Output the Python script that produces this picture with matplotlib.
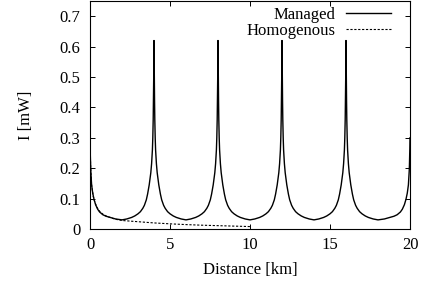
import numpy as np
import matplotlib
matplotlib.use('Agg')
import matplotlib.pyplot as plt

plt.rcParams['font.family'] = ['Liberation Serif', 'DejaVu Serif']
plt.rcParams['font.size'] = 12

# amplifier positions [km]
amp_pos = [0, 4, 8, 12, 16, 20]

# managed: profile around an inner amplifier, distance from amp [km] vs I [mW]
inner_d = [0.0, 0.01, 0.02, 0.035, 0.05, 0.075, 0.1, 0.15, 0.2, 0.3, 0.4, 0.48, 0.6, 0.7, 0.85, 1.0, 1.2, 1.4, 1.7, 2.0]
inner_i = [0.62, 0.55, 0.49, 0.42, 0.36, 0.30, 0.26, 0.215, 0.185, 0.145, 0.115, 0.096, 0.078, 0.068, 0.057, 0.050, 0.043, 0.038, 0.033, 0.030]

# managed: profile at the fibre ends (0 km and 20 km)
edge_d = [0.0, 0.01, 0.02, 0.035, 0.05, 0.075, 0.1, 0.17, 0.25, 0.35, 0.48, 0.6, 0.8, 1.0, 1.2, 1.6, 2.0]
edge_i = [0.30, 0.265, 0.24, 0.21, 0.19, 0.165, 0.145, 0.118, 0.098, 0.080, 0.065, 0.056, 0.047, 0.042, 0.039, 0.033, 0.030]

# homogenous
homo_x = [0.0, 0.02, 0.05, 0.1, 0.2, 0.3, 0.45, 0.6, 0.8, 1.0, 1.3, 1.6, 2.0, 2.5, 3.0, 4.0, 5.0, 6.0, 7.0, 8.0, 9.0, 10.0]
homo_y = [0.30, 0.24, 0.19, 0.145, 0.108, 0.088, 0.070, 0.058, 0.049, 0.043, 0.037, 0.032, 0.028, 0.026, 0.024, 0.020, 0.017, 0.0145, 0.0125, 0.011, 0.0095, 0.008]

# assemble the managed curve span by span from the read profiles
man_x, man_y = [], []
for k in range(len(amp_pos) - 1):
    a, b = amp_pos[k], amp_pos[k + 1]
    ld, li = (edge_d, edge_i) if a == amp_pos[0] else (inner_d, inner_i)
    rd, ri = (edge_d, edge_i) if b == amp_pos[-1] else (inner_d, inner_i)
    man_x += [a + d for d in ld] + [b - d for d in rd[::-1]][1:]
    man_y += list(li) + list(ri[::-1])[1:]

fig = plt.figure(figsize=(4.23, 2.90), dpi=100)
ax = fig.add_axes([90 / 423, 61 / 290, 320 / 423, 228 / 290])

ax.plot(man_x, man_y, color='black', linewidth=1.0, label='Managed')
ax.plot(homo_x, homo_y, color='black', linewidth=0.8, linestyle=(0, (2.0, 1.5)),
        label='Homogenous')

ax.set_xlim(0, 20)
ax.set_ylim(0, 0.75)
ax.set_xticks([0, 5, 10, 15, 20])
ax.set_yticks([0, 0.1, 0.2, 0.3, 0.4, 0.5, 0.6, 0.7])
ax.set_yticklabels(['0', '0.1', '0.2', '0.3', '0.4', '0.5', '0.6', '0.7'])
ax.tick_params(direction='in', length=3.5, width=0.7, top=True, right=True)
ax.tick_params(axis='x', pad=6)
ax.tick_params(axis='y', pad=7)
for s in ax.spines.values():
    s.set_linewidth(0.8)

ax.set_xlabel('Distance [km]')
ax.set_ylabel('I [mW]')
ax.xaxis.set_label_coords(0.5, -0.145)
ax.yaxis.set_label_coords(-0.175, 0.5)

ax.legend(loc='upper right', bbox_to_anchor=(0.94, 0.975), frameon=False,
          markerfirst=False, handlelength=2.7, handletextpad=0.6,
          labelspacing=0.0, borderpad=0.0, borderaxespad=0.0)

fig.savefig('out.png', dpi=100)
